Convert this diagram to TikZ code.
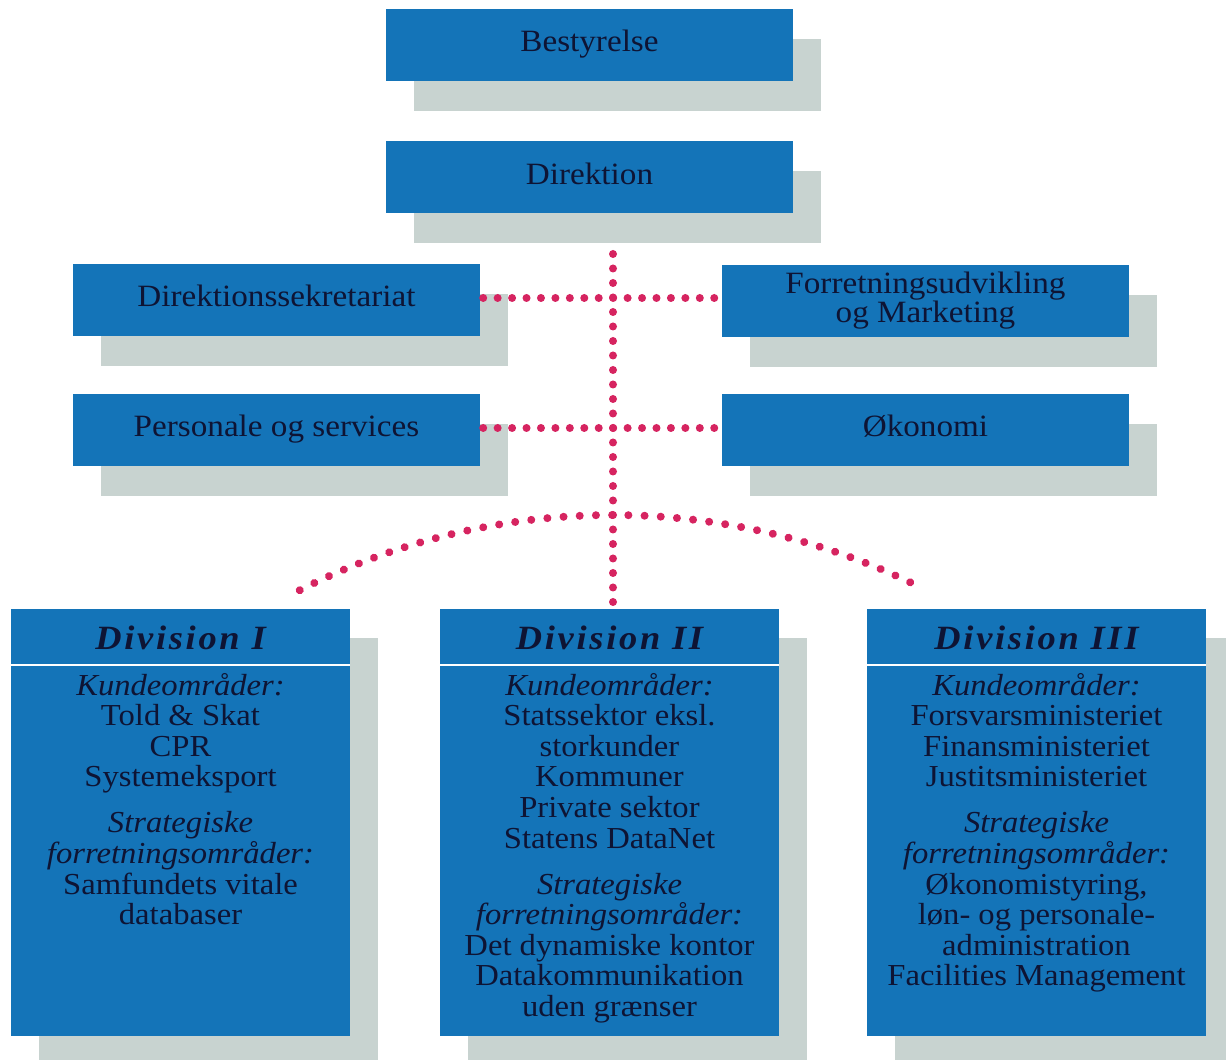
\documentclass[tikz,border=0pt]{standalone}
\usepackage{fontspec}
\setmainfont[FakeStretch=1.07]{Liberation Serif}
\newfontfamily\titlefont[FakeStretch=1.07,LetterSpace=8]{Liberation Serif}
\usetikzlibrary{shadows,decorations.markings}
\definecolor{boxblue}{RGB}{20,116,184}
\definecolor{shadowgray}{RGB}{200,211,208}
\definecolor{dotred}{RGB}{214,36,96}
\definecolor{textnavy}{RGB}{14,20,52}
\tikzset{
  topbox/.style={fill=boxblue, minimum width=407pt, minimum height=72pt, inner sep=0pt,
    text=textnavy, font=\fontsize{31}{27.5}\selectfont, align=center,
    drop shadow={shadow xshift=28pt, shadow yshift=-30pt, fill=shadowgray, opacity=1}},
  single/.style={text height=20pt, text depth=6pt},
  divbox/.style={fill=boxblue, minimum width=339pt, minimum height=427pt, inner sep=0pt,
    drop shadow={shadow xshift=28pt, shadow yshift=-29pt, fill=shadowgray, opacity=1}},
  divtitle/.style={anchor=base, inner sep=0pt, text=textnavy,
    font=\titlefont\fontsize{34}{34}\selectfont\bfseries\itshape},
  divtext/.style={anchor=north, inner sep=0pt, text=textnavy, align=center,
    font=\fontsize{30.5}{30.6}\selectfont},
  headline/.style={draw=white, line width=2pt},
  dotline/.style={decoration={markings,
      mark=between positions 0 and 1 step #1 with {\fill[dotred] (0,0) circle (4pt);}},
    postaction={decorate}},
}
\begin{document}
\begin{tikzpicture}[x=1pt,y=1pt]
\useasboundingbox (0,0) rectangle (1226,1060);
\fill[white] (0,0) rectangle (1226,1060);

% top boxes
\node[topbox,single] (best) at (589.5,1015) {Bestyrelse};
\node[topbox,single] (dir)  at (589.5,882.5) {Direktion};
\node[topbox,single] (dsek) at (276.5,760) {Direktionssekretariat};
\node[topbox] (forr) at (925.5,759) {Forretningsudvikling\\og Marketing};
\node[topbox,single] (pers) at (276.5,630) {Personale og services};
\node[topbox,single] (okon) at (925.5,630) {Økonomi};

% divisions
\node[divbox] (div1) at (180.5,237.5) {};
\node[divbox] (div2) at (609.5,237.5) {};
\node[divbox] (div3) at (1036.5,237.5) {};

\foreach \d in {div1,div2,div3}{
  \draw[headline] ([yshift=-56pt]\d.north west) -- ([yshift=-56pt]\d.north east);
}

\node[divtitle] (div1h) at ([yshift=-41pt]div1.north) {Division I};
\node[divtitle] (div2h) at ([yshift=-41pt]div2.north) {Division II};
\node[divtitle] (div3h) at ([yshift=-41pt]div3.north) {Division III};

\node[divtext] (div1t) at ([yshift=-64pt]div1.north) {\rule{0pt}{22pt}\textit{Kundeområder:}\\
  Told \& Skat\\ CPR\\ Systemeksport\\[15.5pt]
  \textit{Strategiske}\\ \textit{forretningsområder:}\\ Samfundets vitale\\ databaser};
\node[divtext] (div2t) at ([yshift=-64pt]div2.north) {\rule{0pt}{22pt}\textit{Kundeområder:}\\
  Statssektor eksl.\\ storkunder\\ Kommuner\\ Private sektor\\ Statens DataNet\\[15.5pt]
  \textit{Strategiske}\\ \textit{forretningsområder:}\\ Det dynamiske kontor\\ Datakommunikation\\ uden grænser};
\node[divtext] (div3t) at ([yshift=-64pt]div3.north) {\rule{0pt}{22pt}\textit{Kundeområder:}\\
  Forsvarsministeriet\\ Finansministeriet\\ Justitsministeriet\\[15.5pt]
  \textit{Strategiske}\\ \textit{forretningsområder:}\\ Økonomistyring,\\ løn- og personale-\\ administration\\ Facilities Management};

% dotted connectors
\coordinate (vtop) at (613,806);
\path[dotline=14.5pt] (vtop) -- ([yshift=3pt]vtop |- div2.north);
\path[dotline=14.44pt] ([xshift=3pt,yshift=2pt]dsek.east) -- ([xshift=-5pt,yshift=3pt]forr.west);
\path[dotline=14.44pt] ([xshift=3pt,yshift=2pt]pers.east) -- ([xshift=-5pt,yshift=2pt]okon.west);
\coordinate (arcC) at (613,-145);
\coordinate (arcL) at ([shift={(117:690pt)}]arcC);
\path[dotline=16.2pt] (arcL) arc[start angle=117, end angle=64.4, radius=690pt];
\end{tikzpicture}
\end{document}
